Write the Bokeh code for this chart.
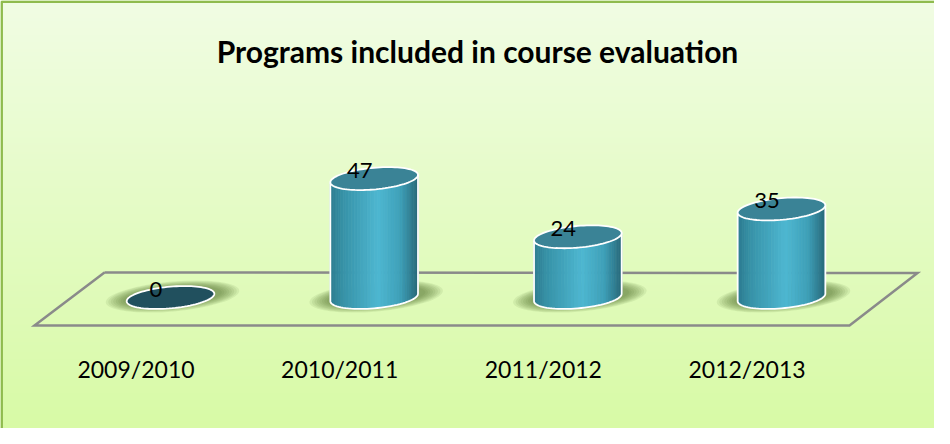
import numpy as np
from bokeh.plotting import figure
from bokeh.models import Range1d
from bokeh.core.properties import value
from bokeh.embed import file_html
from bokeh.resources import INLINE

# ---------------- data ----------------
title = "Programs included in course evaluation"
categories = ["2009/2010", "2010/2011", "2011/2012", "2012/2013"]
counts = [0, 47, 24, 35]

# ---------------- layout (pixels) ----------------
W, H = 934, 428
SX = 203.67          # px per category step
SY = 2.53            # px per program
X0_PX = 170.0        # frame px of first category centre
Y0_PX = 297.0        # frame px (from top) of the zero level

xstart = -X0_PX / SX
ystart = -(H - Y0_PX) / SY
xr = Range1d(xstart, xstart + W / SX)
yr = Range1d(ystart, ystart + H / SY)


def fx(px):
    return xstart + px / SX


def fy(py):
    return (Y0_PX - py) / SY


FONT = "Lato"

p = figure(width=W, height=H, x_range=xr, y_range=yr, output_backend="svg",
           toolbar_location=None, min_border=0, outline_line_color=None,
           x_axis_type=None, y_axis_type=None,
           background_fill_color="#e6fbc8", border_fill_color="#e6fbc8")
p.grid.visible = False

# background gradient
top_c = np.array([241, 253, 228])
bot_c = np.array([216, 250, 166])
img = np.empty((H, 1), dtype=np.uint32)
view = img.view(dtype=np.uint8).reshape((H, 1, 4))
for r in range(H):
    t = r / (H - 1)          # 0 bottom, 1 top
    c = bot_c + (top_c - bot_c) * t
    view[r, 0, 0:3] = c.astype(np.uint8)
    view[r, 0, 3] = 255
p.image_rgba(image=[img], x=xstart, y=ystart, dw=W / SX, dh=H / SY)

# chart border (left and top visible)
p.line([fx(1.2), fx(1.2), fx(W)], [fy(H), fy(1.2), fy(1.2)],
       line_color="#8fbb4e", line_width=2.5)

# floor
floor_px = [(104, 272), (917, 272.5), (849, 325), (34, 325), (104, 272)]
p.line([fx(a) for a, b in floor_px], [fy(b) for a, b in floor_px],
       line_color="#8a8a8a", line_width=2.5, line_join="miter")

# ---------------- cylinders ----------------
A, B, TH = 44.0, 10.8, 0.09
delta = np.arctan(B * np.sin(TH) / (A * np.cos(TH)))


def ell(t):
    ex = A * np.cos(t) * np.cos(TH) - B * np.sin(t) * np.sin(TH)
    ey = A * np.cos(t) * np.sin(TH) + B * np.sin(t) * np.cos(TH)
    return ex, ey


stops = [(0.0, (44, 122, 143)), (0.15, (55, 146, 168)), (0.55, (78, 183, 209)),
         (0.8, (62, 160, 185)), (1.0, (39, 104, 121))]


def grad(u):
    for (u0, c0), (u1, c1) in zip(stops[:-1], stops[1:]):
        if u <= u1:
            f = (u - u0) / (u1 - u0) if u1 > u0 else 0
            c = [int(round(c0[k] + (c1[k] - c0[k]) * f)) for k in range(3)]
            return "#%02x%02x%02x" % tuple(c)
    return "#%02x%02x%02x" % stops[-1][1]


# shadows
for i, v in enumerate(counts):
    for k in range(8):
        w = 134 - k * 5
        h = 30 - k * 1.5
        p.ellipse(x=i + 2 / SX, y=1 / SY, width=w, height=h, angle=TH,
                  width_units="screen", height_units="screen",
                  fill_color="#3f5f20", fill_alpha=0.09, line_color=None)

tt_full = np.linspace(0, 2 * np.pi, 90)
N = 40
for i, v in enumerate(counts):
    h = v * SY
    ex_f, ey_f = ell(tt_full)
    if v > 0:
        tt = np.linspace(np.pi - delta, 2 * np.pi - delta, N + 1)
        ex, ey = ell(tt)
        xs, ys, cols = [], [], []
        for k in range(N):
            xa, xb = ex[k], ex[k + 1]
            ya, yb = ey[k], ey[k + 1]
            xs.append([i + xa / SX, i + xb / SX, i + xb / SX, i + xa / SX])
            ys.append([ya / SY, yb / SY, (yb + h) / SY, (ya + h) / SY])
            u = ((xa + xb) / 2 + A) / (2 * A)
            cols.append(grad(min(max(u, 0), 1)))
        p.patches(xs, ys, fill_color=cols, line_color=cols, line_width=0.8)
        # outline
        ox = [ex[0]] + list(ex) + [ex[-1]]
        oy = [ey[0] + h] + list(ey) + [ey[-1] + h]
        p.line([i + a / SX for a in ox], [b / SY for b in oy],
               line_color="white", line_width=1.8, line_join="round")
        p.patch([i + a / SX for a in ex_f], [v + b / SY for b in ey_f],
                fill_color="#3a8396", line_color="white", line_width=1.8)
    else:
        p.patch([i + a / SX for a in ex_f], [b / SY for b in ey_f],
                fill_color="#21505e", line_color="white", line_width=1.8)

# value labels
p.text(x=[i - 14.5 / SX for i in range(len(counts))],
       y=[v + 8 / SY for v in counts],
       text=[str(v) for v in counts], text_align="center",
       text_baseline="alphabetic", text_font=value(FONT),
       text_font_size="22px", text_color="#000000")

# category labels
p.text(x=[i - 34.5 / SX for i in range(len(categories))],
       y=[-71 / SY] * len(categories), text=categories, text_align="center",
       text_baseline="alphabetic", text_font=value(FONT),
       text_font_size="23px", text_color="#000000")

# title
p.text(x=[fx(477)], y=[fy(50)], text=[title], text_align="center",
       text_baseline="alphabetic", text_font=value(FONT),
       text_font_style="bold", text_font_size="30px", text_color="#000000")

open("out.html", "w").write(file_html(p, INLINE))
